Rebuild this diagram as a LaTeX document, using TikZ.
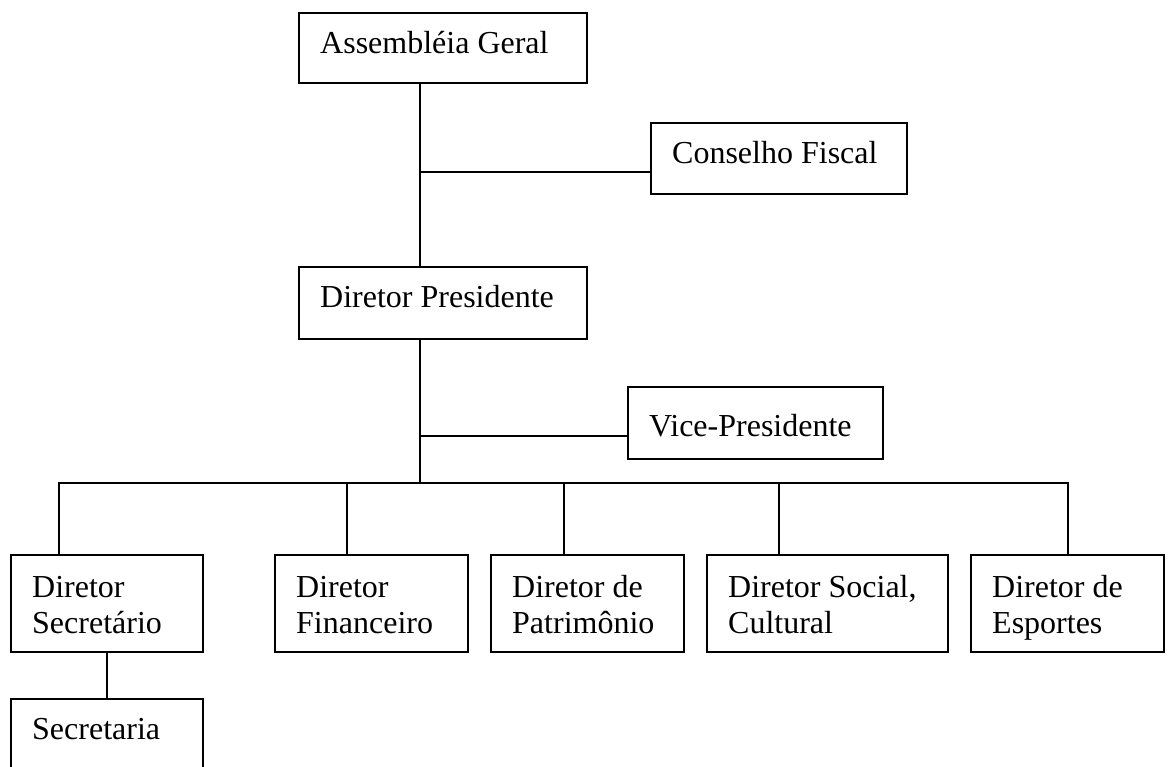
\documentclass[tikz,border=0pt]{standalone}
\usepackage{fontspec}
\setmainfont{Liberation Serif}
\begin{document}
\begin{tikzpicture}[x=1pt,y=-1pt,
  box/.style={draw=black, line width=1.7pt, rectangle, inner sep=0pt, fill=none},
  txt/.style={inner sep=0pt, font=\fontsize{32}{37}\selectfont, anchor=base west},
  conn/.style={draw=black, line width=1.6pt}]
\useasboundingbox (0,0) rectangle (1168,767);
\clip (0,0) rectangle (1168,767);
\fill[white] (0,0) rectangle (1168,767);
% boxes: left, top, right, bottom
\node[box, minimum width=288pt, minimum height=70pt] (ag) at (443,48) {};
\node[box, minimum width=256pt, minimum height=71pt] (cf) at (779,158.5) {};
\node[box, minimum width=288pt, minimum height=72pt] (dp) at (443,303) {};
\node[box, minimum width=255pt, minimum height=72pt] (vp) at (755.5,423) {};
\node[box, minimum width=192pt, minimum height=97pt] (ds) at (107,603.5) {};
\node[box, minimum width=193pt, minimum height=97pt] (df) at (371.5,603.5) {};
\node[box, minimum width=193pt, minimum height=97pt] (dpa) at (587.5,603.5) {};
\node[box, minimum width=241pt, minimum height=97pt] (dsc) at (827.5,603.5) {};
\node[box, minimum width=193pt, minimum height=97pt] (de) at (1067.5,603.5) {};
\node[box, minimum width=192pt, minimum height=100pt] (sec) at (107,749) {};
% texts
\node[txt] (ag-t) at (320,54) {Assembléia Geral};
\node[txt] (cf-t) at (672,164) {Conselho Fiscal};
\node[txt] (dp-t) at (320,308) {Diretor Presidente};
\node[txt] (vp-t) at (649,436) {Vice-Presidente};
\node[txt] (ds-1) at (32,597) {Diretor};
\node[txt] (ds-2) at (32,633) {Secretário};
\node[txt] (df-1) at (296,597) {Diretor};
\node[txt] (df-2) at (296,633) {Financeiro};
\node[txt] (dpa-1) at (512,597) {Diretor de};
\node[txt] (dpa-2) at (512,633) {Patrimônio};
\node[txt] (dsc-1) at (728,597) {Diretor Social,};
\node[txt] (dsc-2) at (728,633) {Cultural};
\node[txt] (de-1) at (992,597) {Diretor de};
\node[txt] (de-2) at (992,633) {Esportes};
\node[txt] (sec-t) at (32,739) {Secretaria};
% junction coordinates
\coordinate (j1) at (420,172);
\coordinate (j2) at (420,436);
\coordinate (bus) at (420,483);
\coordinate (bl) at (59,483);
\coordinate (br) at (1068,483);
% connectors
\draw[conn] (ag.south -| j1) -- (dp.north -| j1);
\draw[conn] (j1) -- (j1 -| cf.west);
\draw[conn] (dp.south -| j2) -- (bus);
\draw[conn] (j2) -- (j2 -| vp.west);
\draw[conn] (ds.north -| bl) -- (bl) -- (br) -- (de.north -| br);
\draw[conn] (df.north -| 347,0) -- (347,483);
\draw[conn] (dpa.north -| 564,0) -- (564,483);
\draw[conn] (dsc.north -| 779,0) -- (779,483);
\draw[conn] (ds.south) -- (sec.north);
\end{tikzpicture}
\end{document}
